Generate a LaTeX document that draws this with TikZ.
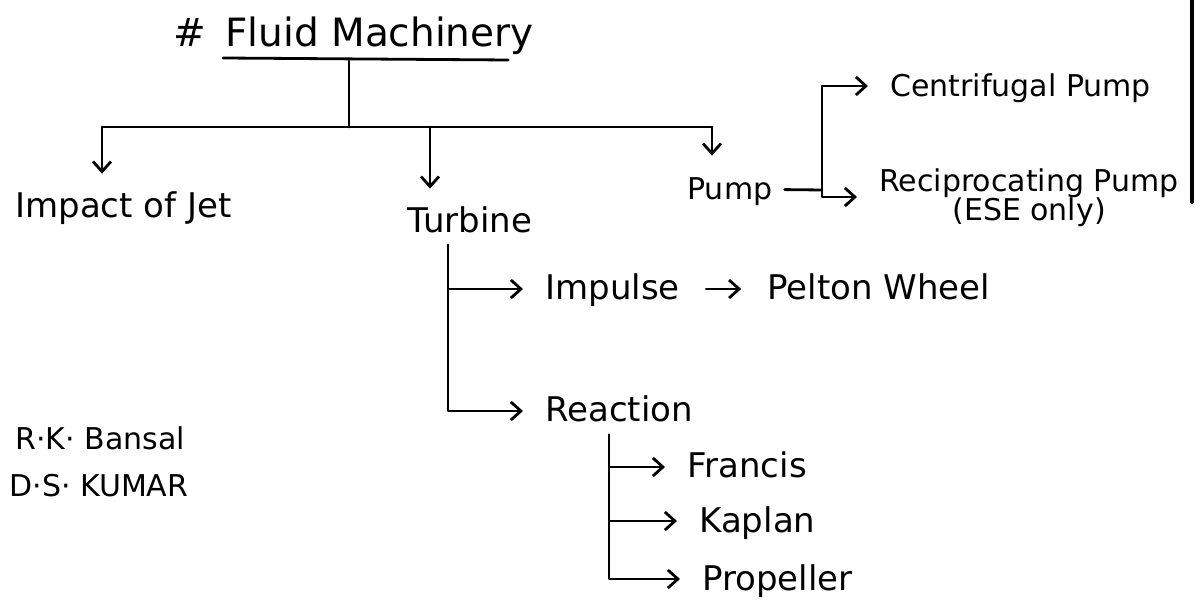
\documentclass[tikz,border=0pt]{standalone}
\usepackage{fontspec}
\setmainfont{DejaVu Sans}
\usetikzlibrary{arrows.meta,positioning}
\tikzset{
  lbl/.style={anchor=base west, inner xsep=1pt, inner ysep=1pt, text height=11pt, text depth=0pt, font=\fontsize{17}{20}\selectfont},
  lblsm/.style={lbl, font=\fontsize{15}{18}\selectfont},
  ttl/.style={lbl, text height=13pt, font=\fontsize{19.5}{23}\selectfont},
  pen/.style={line width=1.4pt, line cap=round, line join=round},
  arr/.style={pen, -{Straight Barb[length=5pt,width=9pt]}, shorten >=10pt}
}
\begin{document}
\begin{tikzpicture}[x=0.5pt, y=-0.5pt]
\useasboundingbox (0,0) rectangle (1204,603);

\node[ttl] (title) at (223,47) {Fluid Machinery};
\node[ttl, left=7pt of title] (hash) {\#};
\draw[pen] ([yshift=-5.5pt]title.base west) -- ([xshift=-14pt, yshift=-6.5pt]title.base east);

\node[lbl] (impact) at (13,218) {Impact of Jet};
\node[lbl] (turbine) at (405,233) {Turbine};
\node[lblsm] (pump) at (685,200) {Pump};

\coordinate (root) at (349,61);
\coordinate (bus) at (349,127);
\coordinate (bImp) at (102,127);
\coordinate (bTur) at (430,127);
\coordinate (bPump) at (712,127);
\draw[pen] (root) -- (bus);
\draw[pen] (bImp) -- (bPump);
\draw[arr] (bImp) -- (bImp |- impact.north);
\draw[arr] (bTur) -- (bTur |- turbine.north);
\draw[arr] (bPump) -- (bPump |- pump.north);

\node[lblsm] (centri) at (888,97) {Centrifugal Pump};
\node[lblsm] (recip) at (877,192) {Reciprocating Pump};
\node[lblsm, below=1pt of recip] (ese) {(ESE only)};
\coordinate (fork) at (822,190);
\draw[pen, shorten <=5pt] (pump) -- (fork);
\draw[arr] (fork) |- (centri);
\draw[arr] (fork) |- ([yshift=-8pt]recip.west);
\draw[pen, line width=2pt] (1192,0) -- (1192,202);

\node[lbl] (impulse) at (543,300) {Impulse};
\node[lbl, right=41.5pt of impulse] (pelton) {Pelton Wheel};
\node[lbl] (reaction) at (543,422) {Reaction};
\coordinate (tStem) at (448,245);
\draw[arr] (tStem) |- (impulse);
\draw[arr] (tStem) |- (reaction);
\draw[arr, shorten <=12pt, shorten >=12pt] (impulse) -- (pelton);

\node[lbl] (francis) at (685,478) {Francis};
\node[lbl] (kaplan) at (697,532) {Kaplan};
\node[lbl] (propeller) at (700,590) {Propeller};
\coordinate (rStem) at (609,435);
\draw[arr] (rStem) |- (francis);
\draw[arr] (rStem) |- (kaplan);
\draw[arr] (rStem) |- (propeller);

\node[lblsm] (bansal) at (13,450) {R·K· Bansal};
\node[lblsm] (kumar) at (7,497) {D·S· KUMAR};
\end{tikzpicture}
\end{document}
